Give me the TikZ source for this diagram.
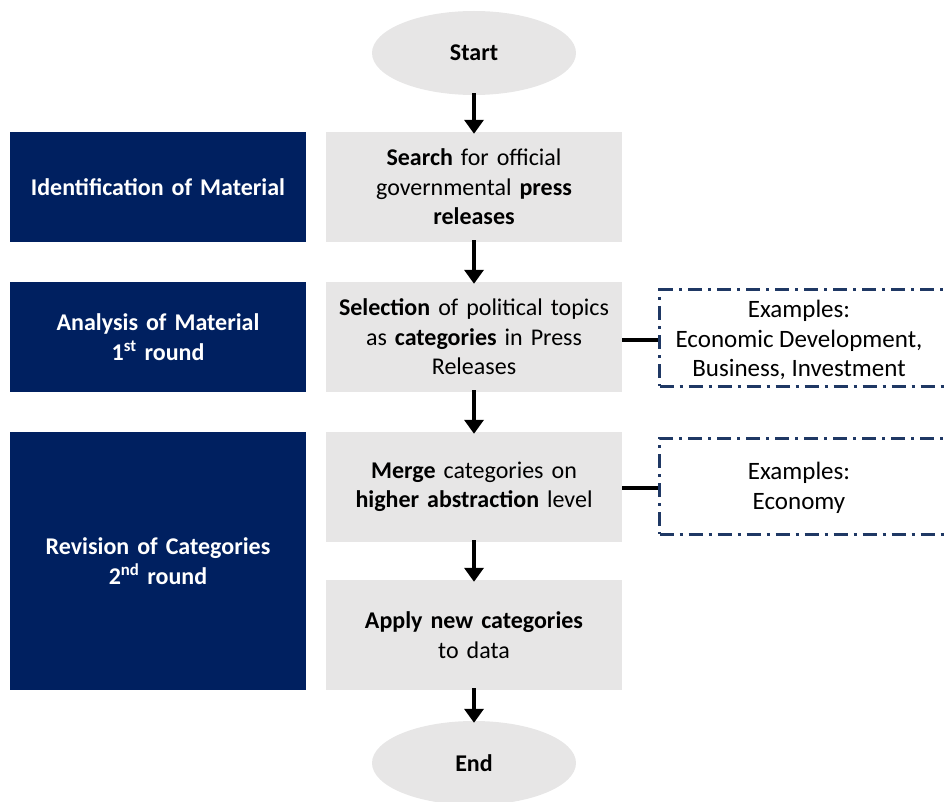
\documentclass[tikz,border=0pt]{standalone}
\usepackage{fontspec}
\setmainfont{Carlito}
\usetikzlibrary{shapes.geometric,arrows.meta}
\definecolor{navy}{HTML}{002060}
\definecolor{boxgray}{HTML}{E7E6E6}
\definecolor{dashnavy}{HTML}{1F3864}
\begin{document}
\begin{tikzpicture}[x=1pt,y=-1pt,
  txt/.style={font=\fontsize{24}{29.5}\selectfont},
  every node/.style={txt, align=center, inner sep=0pt},
  terminal/.style={ellipse, fill=boxgray, minimum width=204pt, minimum height=84pt, font=\fontsize{24}{29.5}\selectfont\bfseries},
  stepbox/.style={fill=boxgray, minimum width=296pt, minimum height=110pt, text width=292pt},
  phase/.style={fill=navy, text=white, minimum width=296pt, text width=292pt, font=\fontsize{24}{29.5}\selectfont\bfseries},
  examplebox/.style={draw=dashnavy, line width=3pt, dash pattern=on 14pt off 6pt on 3pt off 6pt, minimum width=292pt, minimum height=96pt, anchor=west},
  exampletext/.style={font=\fontsize{25}{29.5}\selectfont},
  flow/.style={line width=4.5pt, -{Triangle[length=14pt,width=19pt]}},
  link/.style={line width=4.5pt}
]
\useasboundingbox (0,0) rectangle (945,802);
\begin{scope}
\clip (0,0) rectangle (945,802);

% main column
\node[terminal] (start) at (474,53) {Start};
\node[stepbox] (search) at (474,187) {\textbf{Search} for official\\governmental \textbf{press}\\\textbf{releases}};
\node[stepbox] (select) at (474,337) {\textbf{Selection} of political topics\\as \textbf{categories} in Press\\Releases};
\node[stepbox] (merge) at (474,487) {\textbf{Merge} categories on\\\textbf{higher abstraction} level};
\node[stepbox] (apply) at (474,635) {\textbf{Apply new categories}\\to data};
\node[terminal] (end) at (474,763) {End};

% phases on the left
\node[phase, minimum height=110pt] (ident) at (158,187) {Identification of Material};
\node[phase, minimum height=110pt] (analysis) at (158,337) {Analysis of Material\\1\textsuperscript{st} round};
\node[phase, minimum height=258pt] (revision) at (158,561) {Revision of Categories\\2\textsuperscript{nd} round};

% examples on the right
\node[examplebox] (ex1) at (658,338) {};
\node[exampletext] (ex1txt) at (799,340) {Examples:\\Economic Development,\\Business, Investment};
\node[examplebox] (ex2) at (658,486) {};
\node[exampletext] (ex2txt) at (799,488) {Examples:\\Economy};

% connectors
\draw[flow] ([yshift=2pt]start.south) -- ([yshift=-2pt]search.north);
\draw[flow] ([yshift=2pt]search.south) -- ([yshift=-2pt]select.north);
\draw[flow] ([yshift=2pt]select.south) -- ([yshift=-2pt]merge.north);
\draw[flow] ([yshift=2pt]merge.south) -- ([yshift=-2pt]apply.north);
\draw[flow] ([yshift=2pt]apply.south) -- ([yshift=-2pt]end.north);
\draw[link] (select.east |- 0,340) -- (ex1.west |- 0,340);
\draw[link] (merge.east |- 0,488) -- (ex2.west |- 0,488);
\end{scope}
\end{tikzpicture}
\end{document}
